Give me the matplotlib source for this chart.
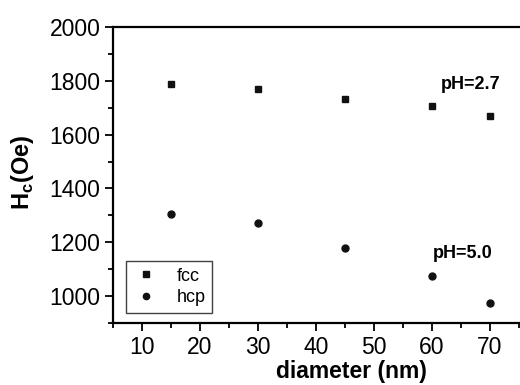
import matplotlib
matplotlib.use('Agg')
import matplotlib.pyplot as plt
from matplotlib.ticker import MultipleLocator

plt.rcParams['font.family'] = ['Liberation Sans', 'DejaVu Sans']

diameter = [15, 30, 45, 60, 70]
hc_fcc = [1790, 1770, 1733, 1705, 1668]
hc_hcp = [1304, 1271, 1180, 1073, 975]

fig = plt.figure(figsize=(5.2, 3.85), dpi=100)
ax = fig.add_axes([113/520, 1 - 323/385, 407/520, 296/385])

ax.plot(diameter, hc_fcc, 's', color='#111111', markersize=5, label='fcc')
ax.plot(diameter, hc_hcp, 'o', color='#111111', markersize=5, label='hcp')

ax.set_xlim(5, 75.2)
ax.set_ylim(900, 2000)
ax.xaxis.set_major_locator(MultipleLocator(10))
ax.xaxis.set_minor_locator(MultipleLocator(5))
ax.yaxis.set_major_locator(MultipleLocator(200))
ax.yaxis.set_minor_locator(MultipleLocator(100))
ax.tick_params(which='major', direction='out', length=6, width=1.3, labelsize=16.5, pad=3)
ax.tick_params(which='minor', direction='out', length=3.5, width=1.3)
ax.tick_params(top=False, right=False)
for s in ['left', 'bottom', 'top']:
    ax.spines[s].set_linewidth(1.6)
ax.spines['right'].set_visible(False)

ax.set_xlabel('diameter (nm)', fontsize=16.5, fontweight='bold')
ax.xaxis.set_label_coords(0.585, -0.125)
ax.set_ylabel('H$_\\mathregular{c}$(Oe)', fontsize=17, fontweight='bold')
ax.yaxis.set_label_coords(-0.19, 0.51)

ax.text(61.6, 1785, 'pH=2.7', fontsize=13, fontweight='bold', va='center')
ax.text(60.2, 1160, 'pH=5.0', fontsize=13, fontweight='bold', va='center')

leg = ax.legend(loc='lower left', bbox_to_anchor=(0.031, 0.035), fontsize=13,
                frameon=True, fancybox=False, edgecolor='#111111',
                handletextpad=0.9, handlelength=1.6, borderpad=0.35,
                labelspacing=0.25, markerscale=0.9, borderaxespad=0)
leg.get_frame().set_linewidth(1.0)

fig.savefig('out.png', dpi=100)
